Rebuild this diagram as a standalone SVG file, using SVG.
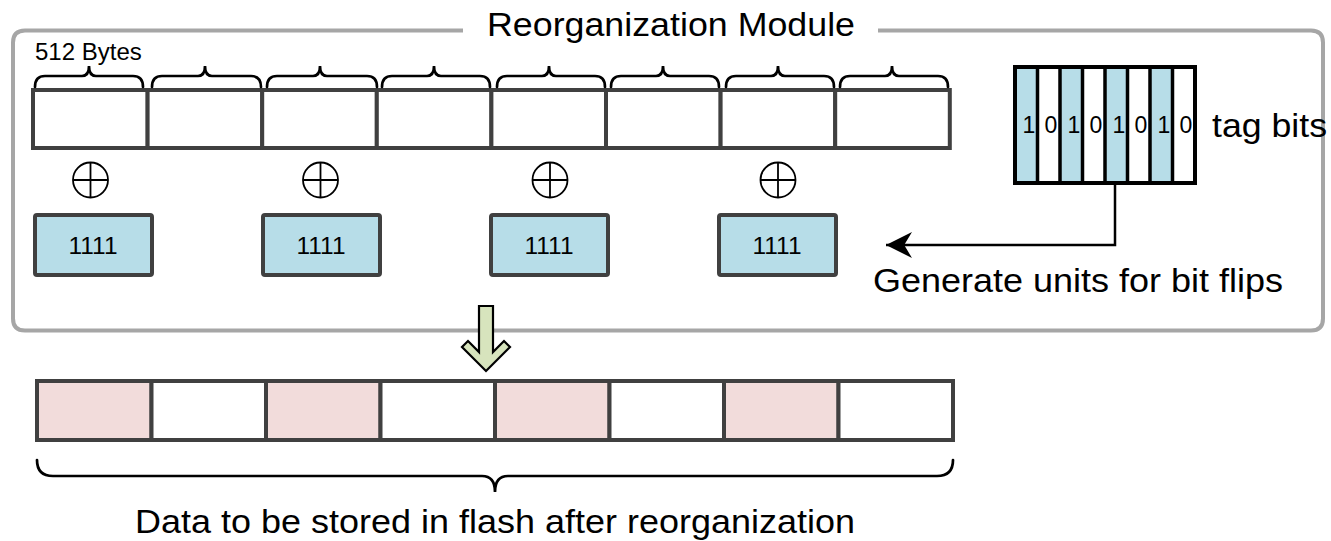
<svg xmlns="http://www.w3.org/2000/svg" width="1331" height="541" viewBox="0 0 1331 541">
<style>
text{font-family:"Liberation Sans",Arial,sans-serif;fill:#000}
.big{font-size:33px}
.cell{fill:#fff;stroke:#404040;stroke-width:4}
.pink{fill:#f2dcdb;stroke:#404040;stroke-width:4}
.unit{fill:#b7dde8;stroke:#404040;stroke-width:4}
.brace{fill:none;stroke:#000;stroke-width:2.7;stroke-linecap:round}
.xor{fill:none;stroke:#000;stroke-width:1.8}
.conn{fill:none;stroke:#000;stroke-width:2.5}
</style>
<defs>
<marker id="ah" markerWidth="26" markerHeight="26" refX="10" refY="5" orient="auto" markerUnits="userSpaceOnUse" viewBox="0 0 10 10">
<path d="M0,0 L10,5 L0,10 L3,5 Z" fill="#000"/>
</marker>
</defs>
<g id="module">
<path d="M463,30.5 L25,30.5 Q13,30.5 13,42.5 L13,318.5 Q13,330.5 25,330.5 L1311,330.5 Q1323,330.5 1323,318.5 L1323,42.5 Q1323,30.5 1311,30.5 L878,30.5" fill="none" stroke="#a6a6a6" stroke-width="4"/>
<text class="big" x="671" y="36" text-anchor="middle" textLength="368" lengthAdjust="spacingAndGlyphs">Reorganization Module</text>
</g>
<g id="top-row">
<rect class="cell" x="33" y="90" width="114.6" height="58"/>
<rect class="cell" x="147.6" y="90" width="114.6" height="58"/>
<rect class="cell" x="262.2" y="90" width="114.6" height="58"/>
<rect class="cell" x="376.8" y="90" width="114.6" height="58"/>
<rect class="cell" x="491.4" y="90" width="114.6" height="58"/>
<rect class="cell" x="606" y="90" width="114.6" height="58"/>
<rect class="cell" x="720.6" y="90" width="114.6" height="58"/>
<rect class="cell" x="835.2" y="90" width="114.6" height="58"/>
</g>
<g id="braces-top">
<text x="35" y="60" font-size="24">512 Bytes</text>
<path class="brace" d="M35,87 Q35,76 45,76 L82,76 Q89,76 89,66 Q89,76 96,76 L133,76 Q143,76 143,87"/>
<path class="brace" d="M152,87 Q152,76 162,76 L198,76 Q205,76 205,66 Q205,76 212,76 L251,76 Q261,76 261,87"/>
<path class="brace" d="M267,87 Q267,76 277,76 L313,76 Q320,76 320,66 Q320,76 327,76 L367,76 Q377,76 377,87"/>
<path class="brace" d="M382,87 Q382,76 392,76 L427,76 Q434,76 434,66 Q434,76 441,76 L480,76 Q490,76 490,87"/>
<path class="brace" d="M497,87 Q497,76 507,76 L542,76 Q549,76 549,66 Q549,76 556,76 L595,76 Q605,76 605,87"/>
<path class="brace" d="M611,87 Q611,76 621,76 L656,76 Q663,76 663,66 Q663,76 670,76 L709,76 Q719,76 719,87"/>
<path class="brace" d="M726,87 Q726,76 736,76 L771,76 Q778,76 778,66 Q778,76 785,76 L824,76 Q834,76 834,87"/>
<path class="brace" d="M840,87 Q840,76 850,76 L885,76 Q892,76 892,66 Q892,76 899,76 L938,76 Q948,76 948,87"/>
</g>
<g id="xor-ops">
<g class="xor"><circle cx="90.5" cy="180" r="17.5"/><path d="M73,180 H108 M90.5,162.5 V197.5"/></g>
<g class="xor"><circle cx="320.5" cy="180" r="17.5"/><path d="M303,180 H338 M320.5,162.5 V197.5"/></g>
<g class="xor"><circle cx="550" cy="180" r="17.5"/><path d="M532.5,180 H567.5 M550,162.5 V197.5"/></g>
<g class="xor"><circle cx="778" cy="180" r="17.5"/><path d="M760.5,180 H795.5 M778,162.5 V197.5"/></g>
</g>
<g id="unit-0"><rect class="unit" x="35" y="215" width="117" height="60" rx="2"/><text x="93" y="254" font-size="24" text-anchor="middle" textLength="49" lengthAdjust="spacingAndGlyphs">1111</text></g>
<g id="unit-1"><rect class="unit" x="263" y="215" width="117" height="60" rx="2"/><text x="321" y="254" font-size="24" text-anchor="middle" textLength="49" lengthAdjust="spacingAndGlyphs">1111</text></g>
<g id="unit-2"><rect class="unit" x="491" y="215" width="117" height="60" rx="2"/><text x="549" y="254" font-size="24" text-anchor="middle" textLength="49" lengthAdjust="spacingAndGlyphs">1111</text></g>
<g id="unit-3"><rect class="unit" x="719" y="215" width="117" height="60" rx="2"/><text x="777" y="254" font-size="24" text-anchor="middle" textLength="49" lengthAdjust="spacingAndGlyphs">1111</text></g>
<g id="tag-bits">
<rect x="1015" y="67" width="180" height="116" fill="#fff"/>
<rect x="1015" y="67" width="22.5" height="116" fill="#b7dde8"/>
<rect x="1060" y="67" width="22.5" height="116" fill="#b7dde8"/>
<rect x="1105" y="67" width="22.5" height="116" fill="#b7dde8"/>
<rect x="1150" y="67" width="22.5" height="116" fill="#b7dde8"/>
<path d="M1037.5,67 V183 M1060,67 V183 M1082.5,67 V183 M1105,67 V183 M1127.5,67 V183 M1150,67 V183 M1172.5,67 V183" stroke="#000" stroke-width="3.5"/>
<rect x="1015" y="67" width="180" height="116" fill="none" stroke="#000" stroke-width="4"/>
<g font-size="23" text-anchor="middle">
<text x="1029" y="133">1</text><text x="1051" y="133">0</text><text x="1074" y="133">1</text><text x="1096" y="133">0</text>
<text x="1119" y="133">1</text><text x="1141" y="133">0</text><text x="1164" y="133">1</text><text x="1186" y="133">0</text>
</g>
<text class="big" x="1212" y="137" textLength="115" lengthAdjust="spacingAndGlyphs">tag bits</text>
</g>
<g id="connectors">
<path class="conn" d="M1115,183 V245 H886" marker-end="url(#ah)"/>
<path d="M479,306 L479,352 L468,341 L462,347 L486,371 L510,347 L504,341 L493,352 L493,306 Z" fill="#d7e4bd" stroke="#000" stroke-width="2.2" stroke-linejoin="miter"/>
</g>
<g id="gen-label">
<text class="big" x="873" y="292" textLength="410" lengthAdjust="spacingAndGlyphs">Generate units for bit flips</text>
</g>
<g id="bottom-row">
<rect class="pink" x="37" y="381" width="114.5" height="59"/>
<rect class="cell" x="151.5" y="381" width="114.5" height="59"/>
<rect class="pink" x="266" y="381" width="114.5" height="59"/>
<rect class="cell" x="380.5" y="381" width="114.5" height="59"/>
<rect class="pink" x="495" y="381" width="114.5" height="59"/>
<rect class="cell" x="609.5" y="381" width="114.5" height="59"/>
<rect class="pink" x="724" y="381" width="114.5" height="59"/>
<rect class="cell" x="838.5" y="381" width="114.5" height="59"/>
</g>
<g id="bottom-brace">
<path class="brace" stroke-width="3" d="M37,460 Q37,476 53,476 L482,476 Q495,476 495,492 Q495,476 508,476 L937,476 Q953,476 953,460"/>
<text class="big" x="495" y="533" text-anchor="middle" textLength="720" lengthAdjust="spacingAndGlyphs">Data to be stored in flash after reorganization</text>
</g>
</svg>
